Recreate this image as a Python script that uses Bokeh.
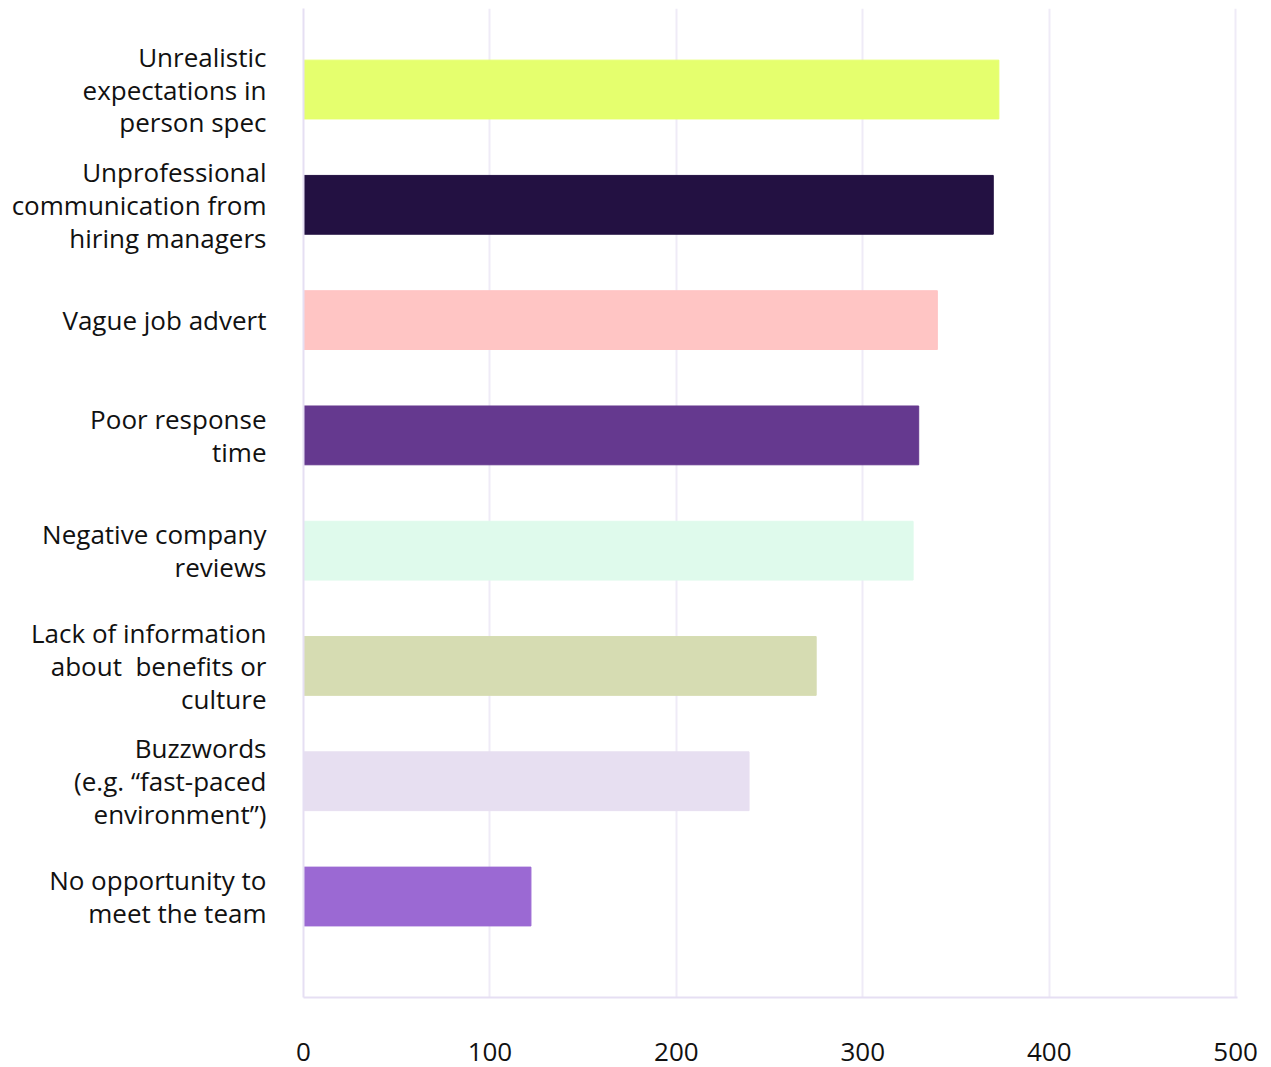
from bokeh.plotting import figure
from bokeh.models import Range1d, FixedTicker, ColumnDataSource
from bokeh.embed import file_html
from bokeh.resources import INLINE

categories = [
    "Unrealistic\nexpectations in\nperson spec",
    "Unprofessional\ncommunication from\nhiring managers",
    "Vague job advert",
    "Poor response\ntime",
    "Negative company\nreviews",
    "Lack of information\nabout\u00a0 benefits or\nculture",
    "Buzzwords\n(e.g. \u201cfast-paced\nenvironment\u201d)",
    "No opportunity to\nmeet the team",
]
values = [373, 370, 340, 330, 327, 275, 239, 122]
colors = ["#e5ff6e", "#231142", "#ffc5c4", "#65398f", "#dffaec", "#d6dcb2", "#e7dff1", "#9b69d3"]
x_ticks = [0, 100, 200, 300, 400, 500]

positions = list(range(len(categories)))
src = ColumnDataSource(dict(y=positions, v=values, c=colors))

p = figure(width=1271, height=1067, output_backend="svg", toolbar_location=None,
           x_range=Range1d(0, 501), y_range=Range1d(7.876, -0.703),
           min_border_left=303, min_border_right=34, min_border_top=8, min_border_bottom=70)
p.hbar(y="y", left=0, right="v", height=0.51, color="c", source=src)

p.outline_line_color = None
p.ygrid.grid_line_color = None
p.xgrid.grid_line_color = "#efebf7"
p.xgrid.grid_line_width = 2
p.xaxis.ticker = FixedTicker(ticks=x_ticks)
p.yaxis.ticker = FixedTicker(ticks=positions)
p.yaxis.major_label_overrides = {i: c for i, c in enumerate(categories)}
for ax in (p.xaxis[0], p.yaxis[0]):
    ax.axis_line_color = "#e6dff3"
    ax.axis_line_width = 2
    ax.major_tick_line_color = None
    ax.minor_tick_line_color = None
    ax.major_tick_out = 0
    ax.major_label_text_font = "Open Sans"
    ax.major_label_text_font_size = "26px"
    ax.major_label_text_color = "#111111"
    ax.major_label_text_line_height = 0.91
p.yaxis.major_label_standoff = 37
p.xaxis.major_label_standoff = 45

open("out.html", "w").write(file_html(p, INLINE))
